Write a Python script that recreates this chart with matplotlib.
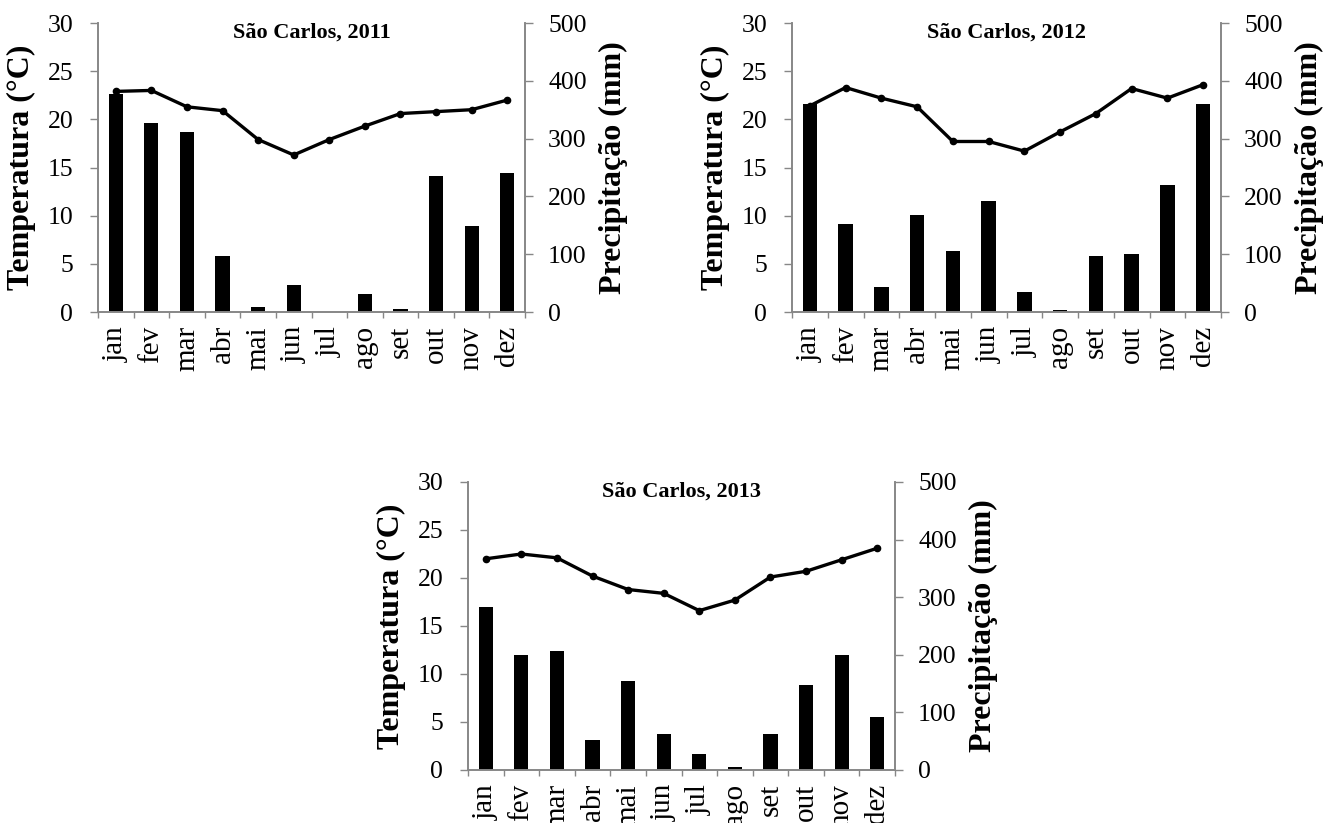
import numpy as np
import matplotlib.pyplot as plt

plt.rcParams.update({
    "font.family": "serif",
    "font.serif": ["Liberation Serif", "DejaVu Serif"],
    "font.size": 18.5,
})

# Meses
meses = ["jan", "fev", "mar", "abr", "mai", "jun", "jul", "ago", "set", "out", "nov", "dez"]

# Temperatura média (°C)
temp_2011 = [22.9, 23.0, 21.3, 20.9, 17.9, 16.3, 17.9, 19.3, 20.6, 20.8, 21.0, 22.0]
temp_2012 = [21.4, 23.3, 22.2, 21.3, 17.7, 17.7, 16.7, 18.7, 20.6, 23.2, 22.2, 23.6]
temp_2013 = [22.0, 22.5, 22.1, 20.2, 18.8, 18.4, 16.6, 17.7, 20.1, 20.7, 21.9, 23.1]

# Precipitação (mm)
prec_2011 = [378, 327, 311, 97, 9, 46, 0, 31, 5, 236, 149, 240]
prec_2012 = [359, 153, 43, 168, 106, 192, 34, 3, 97, 100, 219, 359]
prec_2013 = [283, 200, 206, 52, 154, 62, 28, 5, 63, 148, 199, 92]

titulos = ["São Carlos, 2011", "São Carlos, 2012", "São Carlos, 2013"]

W, H = 1339, 823
# posições dos eixos em pixels (esquerda, topo, direita, base)
caixas = [(98, 23, 525, 312), (792, 23, 1221, 312), (468, 482, 895, 770)]

cinza = "#878787"

fig = plt.figure(figsize=(W / 100, H / 100), dpi=100)

dados = [(temp_2011, prec_2011), (temp_2012, prec_2012), (temp_2013, prec_2013)]
x = np.arange(len(meses))

for (temp, prec), titulo, (l, t, r, b) in zip(dados, titulos, caixas):
    ax = fig.add_axes([l / W, 1 - b / H, (r - l) / W, (b - t) / H])
    ax2 = ax.twinx()

    # barras de precipitação no eixo direito
    ax2.bar(x, prec, width=0.4, color="black", zorder=2)
    ax2.set_ylim(0, 500)
    ax2.set_yticks(range(0, 501, 100))

    # temperatura no eixo esquerdo, desenhada por cima
    ax.set_zorder(ax2.get_zorder() + 1)
    ax.patch.set_visible(False)
    ax.plot(x, temp, color="black", linewidth=2.4, marker="o", markersize=4.5)
    ax.set_ylim(0, 30)
    ax.set_yticks(range(0, 31, 5))
    ax.set_xlim(-0.5, 11.5)

    # ticks do eixo x nas divisas das categorias
    ax.set_xticks(np.arange(-0.5, 12, 1))
    ax.set_xticklabels([])
    ax.set_xticks(x, minor=True)
    ax.set_xticklabels(meses, minor=True, rotation=90, fontsize=21)
    ax.tick_params(axis="x", which="minor", length=0, pad=10)
    ax.tick_params(axis="x", which="major", length=4.5, width=1, color=cinza, direction="out")
    ax.tick_params(axis="y", length=5.8, width=1, color=cinza, direction="out", pad=12)
    ax2.tick_params(axis="y", length=5.8, width=1, color=cinza, direction="out", pad=10.8)

    for a in (ax, ax2):
        a.spines["top"].set_visible(False)
        for s in ("left", "right", "bottom"):
            a.spines[s].set_color(cinza)
            a.spines[s].set_linewidth(1.2)

    ax.set_ylabel("Temperatura (°C)", fontsize=23, fontweight="bold", labelpad=8)
    ax2.set_ylabel("Precipitação (mm)", fontsize=23, fontweight="bold", labelpad=9)
    ax.text(0.5, 1.0, titulo, transform=ax.transAxes, ha="center", va="top",
            fontsize=16, fontweight="bold")

plt.savefig("out.png", dpi=100)
